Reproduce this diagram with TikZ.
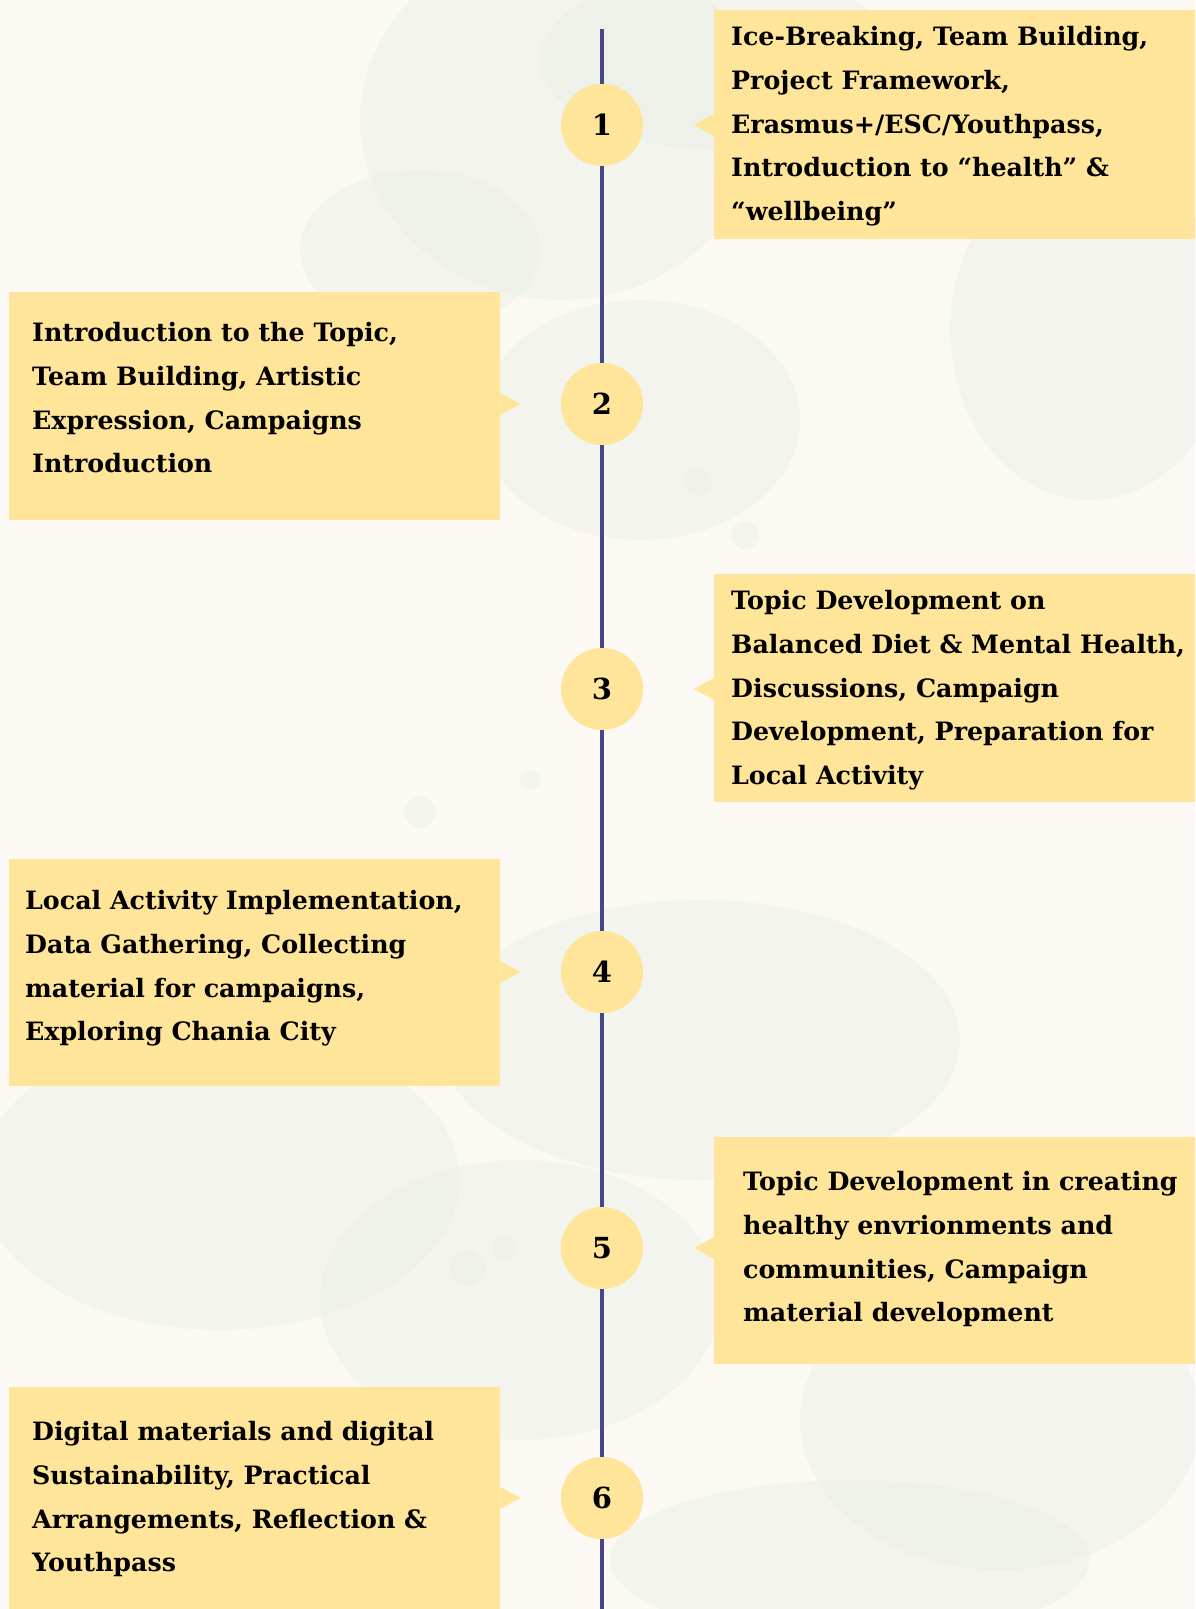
\documentclass[tikz,border=0pt]{standalone}
\usepackage{fontspec}
\setmainfont{DejaVu Serif}
\usetikzlibrary{positioning}
\definecolor{bgcol}{HTML}{FCF9F5}
\definecolor{blob}{HTML}{E3EBDF}
\definecolor{boxfill}{HTML}{FFE599}
\definecolor{linecol}{HTML}{46478A}
\tikzset{
  stepbox/.style={fill=boxfill, draw=none, rectangle, inner sep=0pt},
  steptext/.style={anchor=north west, inner sep=0pt, align=left, font=\bfseries\fontsize{25.3}{43.8}\selectfont, text=black},
  stepnum/.style={circle, fill=boxfill, minimum size=82pt, inner sep=0pt, font=\bfseries\fontsize{29}{32}\selectfont},
  timeline/.style={draw=linecol, line width=3.5pt}
}
\begin{document}
\begin{tikzpicture}[x=1pt,y=-1pt]
\fill[bgcol] (0,0) rectangle (1195,1609);
\useasboundingbox (0,0) rectangle (1195,1609);
% faint watercolor background
\begin{scope}[opacity=0.3]
\fill[blob] (560,120) ellipse (200 and 180);
\fill[blob] (720,60) ellipse (180 and 90);
\fill[blob] (1090,330) ellipse (140 and 170);
\fill[blob] (640,420) ellipse (160 and 120);
\fill[blob] (420,250) ellipse (120 and 80);
\fill[blob] (700,1040) ellipse (260 and 140);
\fill[blob] (220,1180) ellipse (240 and 150);
\fill[blob] (520,1300) ellipse (200 and 140);
\fill[blob] (1000,1420) ellipse (200 and 150);
\fill[blob] (850,1560) ellipse (240 and 80);
\fill[blob] (420,812) circle (16);
\fill[blob] (530,780) circle (10);
\fill[blob] (698,482) circle (14);
\fill[blob] (745,535) circle (14);
\fill[blob] (467,1268) circle (18);
\fill[blob] (505,1248) circle (12);
\end{scope}
% timeline
\coordinate (top) at (602,29);
\coordinate (bot) at (602,1609);
\node[stepnum] (c1) at (602,125) {1};
\node[stepnum] (c2) at (602,404) {2};
\node[stepnum] (c3) at (602,689) {3};
\node[stepnum] (c4) at (602,972) {4};
\node[stepnum] (c5) at (602,1248) {5};
\node[stepnum] (c6) at (602,1498) {6};
\draw[timeline] (top) -- (c1.north);
\draw[timeline] (c1.south) -- (c2.north);
\draw[timeline] (c2.south) -- (c3.north);
\draw[timeline] (c3.south) -- (c4.north);
\draw[timeline] (c4.south) -- (c5.north);
\draw[timeline] (c5.south) -- (c6.north);
\draw[timeline] (c6.south) -- (bot);
% boxes
\node[stepbox, minimum width=481pt, minimum height=229pt, anchor=north west] (b1) at (714,10) {};
\node[stepbox, minimum width=491pt, minimum height=228pt, anchor=north west] (b2) at (9,292) {};
\node[stepbox, minimum width=481pt, minimum height=228pt, anchor=north west] (b3) at (714,574) {};
\node[stepbox, minimum width=491pt, minimum height=227pt, anchor=north west] (b4) at (9,859) {};
\node[stepbox, minimum width=481pt, minimum height=227pt, anchor=north west] (b5) at (714,1137) {};
\node[stepbox, minimum width=491pt, minimum height=222pt, anchor=north west] (b6) at (9,1387) {};
% pointers
\fill[boxfill] (b1.west |- c1) ++(0,-11) -- ++(-20,11) -- ++(20,11) -- cycle;
\fill[boxfill] (b3.west |- c3) ++(0,-11) -- ++(-20,11) -- ++(20,11) -- cycle;
\fill[boxfill] (b5.west |- c5) ++(0,-11) -- ++(-20,11) -- ++(20,11) -- cycle;
\fill[boxfill] (b2.east |- c2) ++(0,-11) -- ++(20,11) -- ++(-20,11) -- cycle;
\fill[boxfill] (b4.east |- c4) ++(0,-11) -- ++(20,11) -- ++(-20,11) -- cycle;
\fill[boxfill] (b6.east |- c6) ++(0,-11) -- ++(20,11) -- ++(-20,11) -- cycle;
% texts
\node[steptext] (t1) at (731,26) {Ice-Breaking, Team Building,\\Project Framework,\\Erasmus+/ESC/Youthpass,\\Introduction to “health” \&\\“wellbeing”};
\node[steptext] (t2) at (32,322) {Introduction to the Topic,\\Team Building, Artistic\\Expression, Campaigns\\Introduction};
\node[steptext] (t3) at (731,590) {Topic Development on\\Balanced Diet \& Mental Health,\\Discussions, Campaign\\Development, Preparation for\\Local Activity};
\node[steptext] (t4) at (25,890) {Local Activity Implementation,\\Data Gathering, Collecting\\material for campaigns,\\Exploring Chania City};
\node[steptext] (t5) at (743,1171) {Topic Development in creating\\healthy envrionments and\\communities, Campaign\\material development};
\node[steptext] (t6) at (32,1421) {Digital materials and digital\\Sustainability, Practical\\Arrangements, Reflection \&\\Youthpass};
\end{tikzpicture}
\end{document}
